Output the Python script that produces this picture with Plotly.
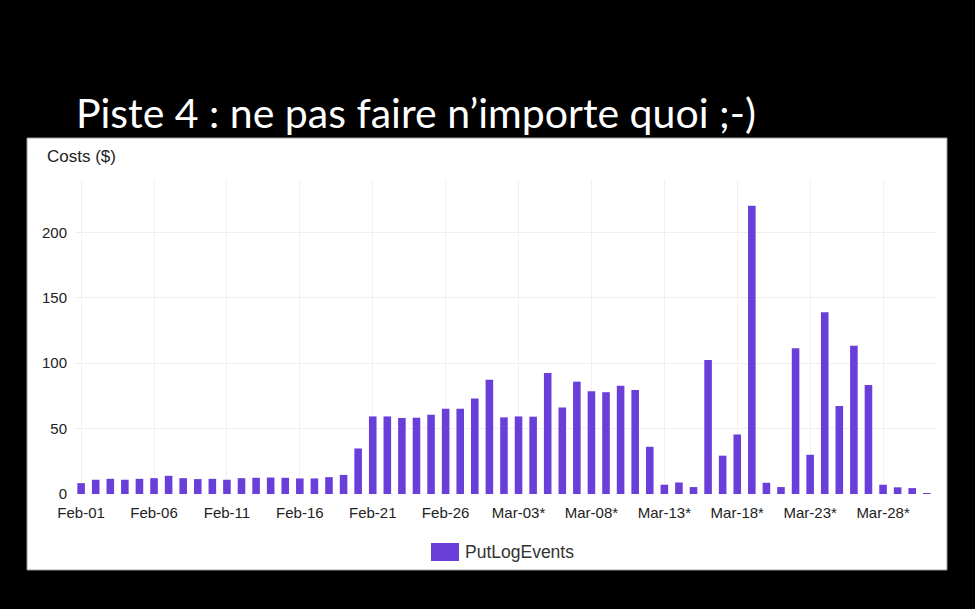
import plotly.graph_objects as go
import pandas as pd

days = [d.strftime("%b-%d") for d in pd.date_range("2021-02-01", "2021-03-31")]
costs = [8.3, 10.9, 11.6, 10.9, 11.6, 12.1, 13.9, 12.1, 11.4, 11.6,
         10.9, 12.1, 12.4, 12.6, 12.4, 11.9, 11.9, 12.9, 14.6, 34.8,
         59.3, 59.3, 58.1, 58.3, 60.6, 65.1, 65.1, 73.0,
         87.4, 58.6, 59.3, 59.1, 92.4, 66.2, 85.9, 78.5, 77.8, 82.8,
         79.5, 36.1, 7.1, 8.8, 5.3, 102.5, 29.3, 45.5, 220.4, 8.6,
         5.3, 111.4, 30.0, 138.9, 67.2, 113.4, 83.3, 7.1, 5.1, 4.5, 0.5]
tick_vals = ["Feb-01", "Feb-06", "Feb-11", "Feb-16", "Feb-21", "Feb-26",
             "Mar-03", "Mar-08", "Mar-13", "Mar-18", "Mar-23", "Mar-28"]
tick_text = ["Feb-01", "Feb-06", "Feb-11", "Feb-16", "Feb-21", "Feb-26",
             "Mar-03*", "Mar-08*", "Mar-13*", "Mar-18*", "Mar-23*", "Mar-28*"]
series_name = "PutLogEvents"
title = "Piste 4 : ne pas faire n\u2019importe quoi ;-)"

BAR_COLOR = "#6a3fd9"
W, H = 975, 609
L, R, T, B = 75, 38, 180, 115
pw, ph = W - L - R, H - T - B

def px(x):
    return (x - L) / pw

def py(y):
    return (H - B - y) / ph

fig = go.Figure()
fig.add_trace(go.Bar(x=days, y=costs, name=series_name,
                     marker=dict(color=BAR_COLOR, line=dict(width=0)),
                     width=0.52, showlegend=False))

fig.update_layout(
    width=W, height=H,
    margin=dict(l=L, r=R, t=T, b=B),
    paper_bgcolor="black",
    plot_bgcolor="white",
    font=dict(family="Liberation Sans, Arial, sans-serif", size=15, color="#222"),
    showlegend=False,
    xaxis=dict(type="category", range=[-0.42, 58.7],
               tickmode="array", tickvals=tick_vals, ticktext=tick_text,
               showgrid=True, gridcolor="#f2f2f2", ticks="", showline=False,
               tickfont=dict(size=15, color="#222"), zeroline=False,
               ticklabelstandoff=8),
    yaxis=dict(range=[0, 240], tickvals=[0, 50, 100, 150, 200],
               showgrid=True, gridcolor="#efefef", ticks="", showline=False,
               zeroline=False, tickfont=dict(size=15, color="#222"),
               ticklabelstandoff=7),
    bargap=0.48,
)

fig.add_shape(type="rect", xref="paper", yref="paper",
              x0=px(27), x1=px(947), y0=py(570), y1=py(138),
              fillcolor="white", line=dict(color="#9a9a9a", width=1), layer="below")

# legend (swatch + label)
fig.add_shape(type="rect", xref="paper", yref="paper",
              x0=px(431), x1=px(459), y0=py(561), y1=py(543),
              fillcolor=BAR_COLOR, line=dict(width=0))
fig.add_annotation(text=series_name, xref="paper", yref="paper", x=px(463), y=py(552),
                   xanchor="left", yanchor="middle", showarrow=False,
                   font=dict(size=17.5, color="#333"))

fig.add_annotation(text=title, xref="paper", yref="paper", x=px(74), y=py(113),
                   xanchor="left", yanchor="middle", showarrow=False,
                   font=dict(family="Lato, sans-serif", size=41, color="white"))
fig.add_annotation(text="Costs ($)", xref="paper", yref="paper", x=px(45), y=py(157),
                   xanchor="left", yanchor="middle", showarrow=False,
                   font=dict(size=17, color="#222"))

fig.write_html("out.html", config={"displayModeBar": False},
               post_script="document.body.style.margin='0';document.body.style.background='black';")
